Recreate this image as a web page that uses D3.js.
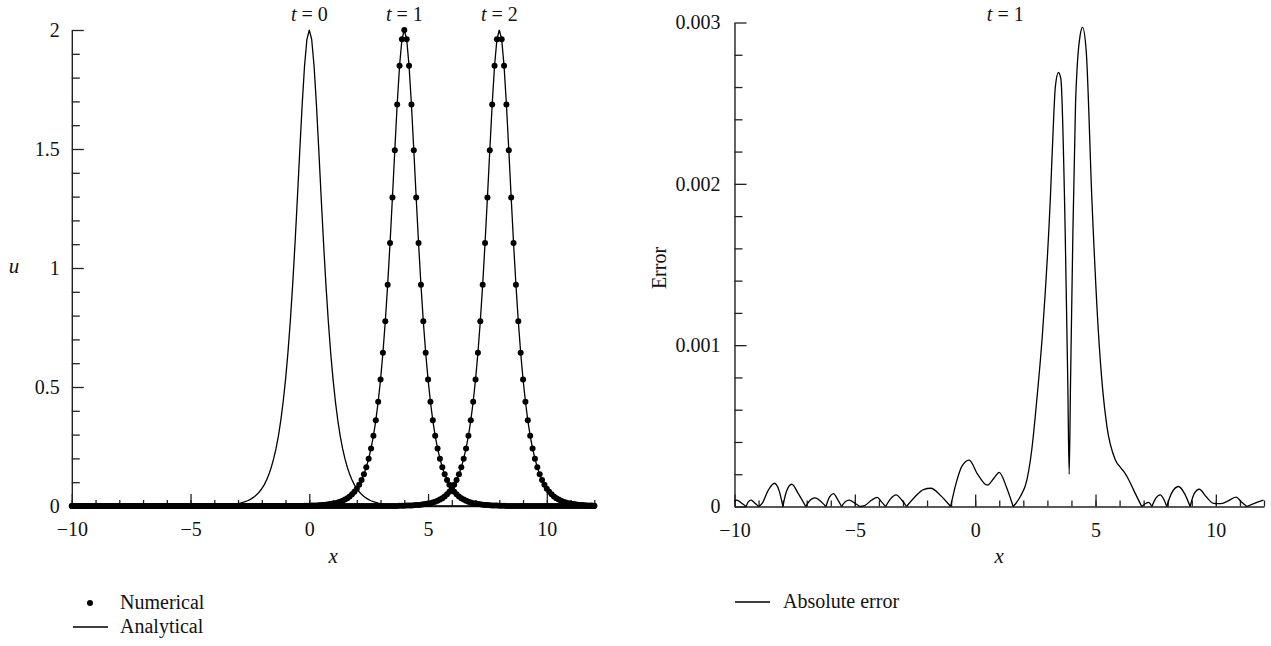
<!DOCTYPE html>
<html>
<head>
<meta charset="utf-8">
<script src="https://cdn.jsdelivr.net/npm/d3@7"></script>
<style>
  html, body { margin: 0; padding: 0; background: #fff; }
  svg { display: block; }
  text { font-family: "Liberation Serif", "DejaVu Serif", serif; fill: #111; }
</style>
</head>
<body>
<svg id="chart" width="1271" height="646"></svg>
<script>
// ---------- DATA ----------
// spatial grid of the numerical scheme (x from -10 to 12, step 0.1)
const xGrid = d3.range(-100, 121).map(i => i / 10);

// Analytical solution u(x,t) at t = 0, 1, 2 (values read on the 0.1 grid)
const anaT0 = [
0,0,0,0,0,0,0,0,0,0, 0,0,0,0,0,0,0,0,0,0, 0,0,0,0,0,0,0,0,0,0, 0,0,0,0,0,0,0,0,0,0, 0,0,0,0,0,0,0,0,0,0, 0,0,0,0,0,0,0,0,
0.001,0.001,0.001,0.002,0.002,0.002,0.003,0.004,0.004,0.005,0.007,0.008,0.010,0.012,0.015,0.018,0.022,0.027,0.033,0.040,0.049,0.060,0.073,0.089,0.109,0.133,0.163,0.199,0.242,0.295,0.360,0.438,0.532,0.644,0.776,0.930,1.105,1.296,1.495,1.687,1.850,1.961,
2.000,
1.961,1.850,1.687,1.495,1.296,1.105,0.930,0.776,0.644,0.532,0.438,0.360,0.295,0.242,0.199,0.163,0.133,0.109,0.089,0.073,0.060,0.049,0.040,0.033,0.027,0.022,0.018,0.015,0.012,0.010,0.008,0.007,0.005,0.004,0.004,0.003,0.002,0.002,0.002,0.001,0.001,0.001,
0,0,0,0,0,0,0,0,0,0, 0,0,0,0,0,0,0,0,0,0, 0,0,0,0,0,0,0,0,0,0, 0,0,0,0,0,0,0,0,0,0, 0,0,0,0,0,0,0,0,0,0, 0,0,0,0,0,0,0,0,0,0, 0,0,0,0,0,0,0,0,0,0, 0,0,0,0,0,0,0,0
];
const anaT1 = [
0,0,0,0,0,0,0,0,0,0, 0,0,0,0,0,0,0,0,0,0, 0,0,0,0,0,0,0,0,0,0, 0,0,0,0,0,0,0,0,0,0, 0,0,0,0,0,0,0,0,0,0, 0,0,0,0,0,0,0,0,0,0, 0,0,0,0,0,0,0,0,0,0, 0,0,0,0,0,0,0,0,0,0, 0,0,0,0,0,0,0,0,0,0, 0,0,0,0,0,0,0,0,
0.001,0.001,0.001,0.002,0.002,0.002,0.003,0.004,0.004,0.005,0.007,0.008,0.010,0.012,0.015,0.018,0.022,0.027,0.033,0.040,0.049,0.060,0.073,0.089,0.109,0.133,0.163,0.199,0.242,0.295,0.360,0.438,0.532,0.644,0.776,0.930,1.105,1.296,1.495,1.687,1.850,1.961,
2.000,
1.961,1.850,1.687,1.495,1.296,1.105,0.930,0.776,0.644,0.532,0.438,0.360,0.295,0.242,0.199,0.163,0.133,0.109,0.089,0.073,0.060,0.049,0.040,0.033,0.027,0.022,0.018,0.015,0.012,0.010,0.008,0.007,0.005,0.004,0.004,0.003,0.002,0.002,0.002,0.001,0.001,0.001,
0,0,0,0,0,0,0,0,0,0, 0,0,0,0,0,0,0,0,0,0, 0,0,0,0,0,0,0,0,0,0, 0,0,0,0,0,0,0,0
];
const anaT2 = [
0,0,0,0,0,0,0,0,0,0, 0,0,0,0,0,0,0,0,0,0, 0,0,0,0,0,0,0,0,0,0, 0,0,0,0,0,0,0,0,0,0, 0,0,0,0,0,0,0,0,0,0, 0,0,0,0,0,0,0,0,0,0, 0,0,0,0,0,0,0,0,0,0, 0,0,0,0,0,0,0,0,0,0, 0,0,0,0,0,0,0,0,0,0, 0,0,0,0,0,0,0,0,0,0, 0,0,0,0,0,0,0,0,0,0, 0,0,0,0,0,0,0,0,0,0, 0,0,0,0,0,0,0,0,0,0, 0,0,0,0,0,0,0,0,
0.001,0.001,0.001,0.002,0.002,0.002,0.003,0.004,0.004,0.005,0.007,0.008,0.010,0.012,0.015,0.018,0.022,0.027,0.033,0.040,0.049,0.060,0.073,0.089,0.109,0.133,0.163,0.199,0.242,0.295,0.360,0.438,0.532,0.644,0.776,0.930,1.105,1.296,1.495,1.687,1.850,1.961,
2.000,
1.961,1.850,1.687,1.495,1.296,1.105,0.930,0.776,0.644,0.532,0.438,0.360,0.295,0.242,0.199,0.163,0.133,0.109,0.089,0.073,0.060,0.049,0.040,0.033,0.027,0.022,0.018,0.015,0.012,0.010,0.008,0.007,0.005,0.004,0.004,0.003,0.002,0.002,0.002,0.001
];

// Numerical solution at t = 1 and t = 2 (same grid; the peak node at t = 2 is not marked)
const numT1 = anaT1;
const numT2 = anaT2.map((v, i) => (xGrid[i] === 8 ? null : v));

// Absolute error at t = 1
const errX = [-10,-9.9,-9.7,-9.52, -9.42,-9.31,-9.15,-9.0, -8.85,-8.6,-8.34,-8.15,-7.99,
  -7.85,-7.62,-7.35,-7.04, -6.85,-6.65,-6.4,-6.2, -6.05,-5.89,-5.7,-5.55, -5.4,-5.23,-5.0,-4.79,
  -4.6,-4.3,-4.07,-3.9,-3.72, -3.5,-3.29,-3.05,-2.85, -2.5,-2.15,-1.84,-1.45,-1.02,
  -0.8,-0.55,-0.25,0.1,0.5,0.8,1.0,1.3,1.58,
  1.87,2.15,2.35,2.56,2.8,3.12,3.23,3.33,3.46,3.56,3.74,3.85,3.905,3.96,4.06,4.17,4.24,4.36,4.46,4.61,4.85,5.12,5.3,5.47,5.82,6.05,6.23,6.4,6.58,6.92,
  7.1,7.2,7.34, 7.5,7.69,7.85,7.96, 8.15,8.45,8.7,8.93, 9.1,9.31,9.6,9.9,10.2,10.45,10.84,11.05,11.29, 11.6,11.98];
const errY = [0.000035,0.00004,0.00002,0, 0.00003,0.00004,0.00002,0, 0.00002,0.0001,0.000144,0.0001,0,
  0.00009,0.000138,0.00008,0, 0.00004,0.000054,0.00003,0, 0.00006,0.00008,0.00004,0, 0.00003,0.00004,0.00002,0,
  0.000005,0.00004,0.000056,0.00003,0, 0.00005,0.000072,0.00004,0, 0.00006,0.000105,0.000113,0.00007,0,
  0.00014,0.00025,0.000288,0.0002,0.000132,0.00018,0.000212,0.00012,0,
  0.00006,0.000165,0.00035,0.00066,0.00108,0.0019,0.0023,0.0026,0.00269,0.00265,0.0017,0.00075,0.0002,0.00075,0.0017,0.0025,0.00273,0.00292,0.00297,0.00283,0.0019,0.00108,0.00072,0.0005,0.00029,0.00024,0.000205,0.00016,0.000103,0,
  0.00002,0.000025,0, 0.00005,0.000072,0.00004,0, 0.00008,0.000124,0.00008,0, 0.00008,0.000107,0.00006,0.00002,0.000018,0.00003,0.000058,0.00003,0, 0.00002,0.00004];

// ticks
const xMajor = [-10, -5, 0, 5, 10];
const xMinor = [-10,-9,-8,-7,-6,-5,-4,-3,-2,-1,0,1,2,3,4,5,6,7,8,9,10,11,12];
const uMajor = [0, 0.5, 1, 1.5, 2];
const uMinor = [0.1,0.2,0.3,0.4,0.6,0.7,0.8,0.9,1.1,1.2,1.3,1.4,1.6,1.7,1.8,1.9];
const eMajor = [0, 0.001, 0.002, 0.003];
const eMinor = [0.0002,0.0004,0.0006,0.0008,0.0012,0.0014,0.0016,0.0018,0.0022,0.0024,0.0026,0.0028];

// annotations
const leftTimes = [{t: 0, x: 0}, {t: 1, x: 4}, {t: 2, x: 8}];
const rightTimes = [{t: 1, x: 1.25}];

// ---------- DRAW ----------
const FS = "20px";
const svg = d3.select("#chart");
const axisColor = "#222";

const xL = d3.scaleLinear([-10, 12], [71.8, 594.3]);
const yL = d3.scaleLinear([0, 2], [506, 30]);
const xR = d3.scaleLinear([-10, 12], [734.5, 1264]);
const yR = d3.scaleLinear([0, 0.003], [506.5, 22.5]);

function styleAxis(g) {
  g.selectAll("path.domain").attr("stroke", axisColor).attr("stroke-width", 1.4);
  g.selectAll(".tick line").attr("stroke", axisColor).attr("stroke-width", 1.3);
  g.selectAll(".tick text").style("font-family", '"Liberation Serif", serif').style("font-size", FS).attr("fill", "#111");
}

function drawAxes(x, y, yMajor, yMinor, yFmt, y0, yPad) {
  svg.append("g").attr("transform", `translate(0,${y0})`)
    .call(d3.axisBottom(x).tickValues(xMinor).tickSize(-6).tickSizeOuter(0).tickFormat(""))
    .call(g => g.select(".domain").remove()).call(styleAxis);
  svg.append("g").attr("transform", `translate(0,${y0})`)
    .call(d3.axisBottom(x).tickValues(xMajor).tickSize(-12).tickSizeOuter(0).tickPadding(16))
    .call(styleAxis);
  svg.append("g").attr("transform", `translate(${x.range()[0]},0)`)
    .call(d3.axisLeft(y).tickValues(yMinor).tickSize(-8).tickSizeOuter(0).tickFormat(""))
    .call(g => g.select(".domain").remove()).call(styleAxis);
  svg.append("g").attr("transform", `translate(${x.range()[0]},0)`)
    .call(d3.axisLeft(y).tickValues(yMajor).tickSize(-12).tickSizeOuter(0).tickPadding(yPad).tickFormat(yFmt))
    .call(styleAxis);
}

drawAxes(xL, yL, uMajor, uMinor, d3.format(""), yL(0), 12);
drawAxes(xR, yR, eMajor, eMinor, d3.format(""), yR(0), 14);

// ----- left panel curves -----
const lineL = d3.line().x(d => xL(d[0])).y(d => yL(d[1]));
[anaT0, anaT1, anaT2].forEach(arr => {
  svg.append("path")
    .attr("d", lineL(xGrid.map((x, i) => [x, arr[i]])))
    .attr("fill", "none").attr("stroke", "#000").attr("stroke-width", 1.3);
});
[numT1, numT2].forEach(arr => {
  svg.append("g").selectAll("circle")
    .data(xGrid.map((x, i) => [x, arr[i]]).filter(d => d[1] !== null))
    .join("circle")
    .attr("cx", d => xL(d[0])).attr("cy", d => yL(d[1])).attr("r", 3).attr("fill", "#000");
});

// ----- right panel error curve (split at zero crossings -> cusps) -----
const segs = []; let cur = [];
errX.forEach((x, i) => {
  const p = [x, errY[i]];
  cur.push(p);
  if (errY[i] === 0 && cur.length > 1) { segs.push(cur); cur = [p]; }
});
if (cur.length > 1) segs.push(cur);
const lineR = d3.line().x(d => xR(d[0])).y(d => yR(d[1])).curve(d3.curveMonotoneX);
segs.forEach(s => {
  svg.append("path").attr("d", lineR(s))
    .attr("fill", "none").attr("stroke", "#000").attr("stroke-width", 1.3);
});

// ----- annotations -----
function tLabel(cx, t) {
  const tx = svg.append("text").attr("x", cx).attr("y", 21).attr("text-anchor", "middle").style("font-size", FS);
  tx.append("tspan").style("font-style", "italic").text("t");
  tx.append("tspan").text(" = " + t);
}
leftTimes.forEach(d => tLabel(xL(d.x), d.t));
rightTimes.forEach(d => tLabel(xR(d.x), d.t));

svg.append("text").attr("x", 14).attr("y", 273).attr("text-anchor", "middle")
  .style("font-size", "21px").style("font-style", "italic").text("u");
svg.append("text").attr("transform", "translate(666,268) rotate(-90)").attr("text-anchor", "middle")
  .style("font-size", FS).text("Error");
svg.append("text").attr("x", (xL.range()[0] + xL.range()[1]) / 2).attr("y", 563).attr("text-anchor", "middle")
  .style("font-size", "21px").style("font-style", "italic").text("x");
svg.append("text").attr("x", (xR.range()[0] + xR.range()[1]) / 2).attr("y", 563).attr("text-anchor", "middle")
  .style("font-size", "21px").style("font-style", "italic").text("x");

// ----- legends -----
svg.append("circle").attr("cx", 90).attr("cy", 603).attr("r", 3).attr("fill", "#000");
svg.append("text").attr("x", 120).attr("y", 609).style("font-size", FS).text("Numerical");
svg.append("line").attr("x1", 73).attr("x2", 108).attr("y1", 627).attr("y2", 627).attr("stroke", "#000").attr("stroke-width", 1.3);
svg.append("text").attr("x", 120).attr("y", 633).style("font-size", FS).text("Analytical");

svg.append("line").attr("x1", 735).attr("x2", 770).attr("y1", 602).attr("y2", 602).attr("stroke", "#000").attr("stroke-width", 1.3);
svg.append("text").attr("x", 783).attr("y", 608).style("font-size", FS).text("Absolute error");
</script>
</body>
</html>
